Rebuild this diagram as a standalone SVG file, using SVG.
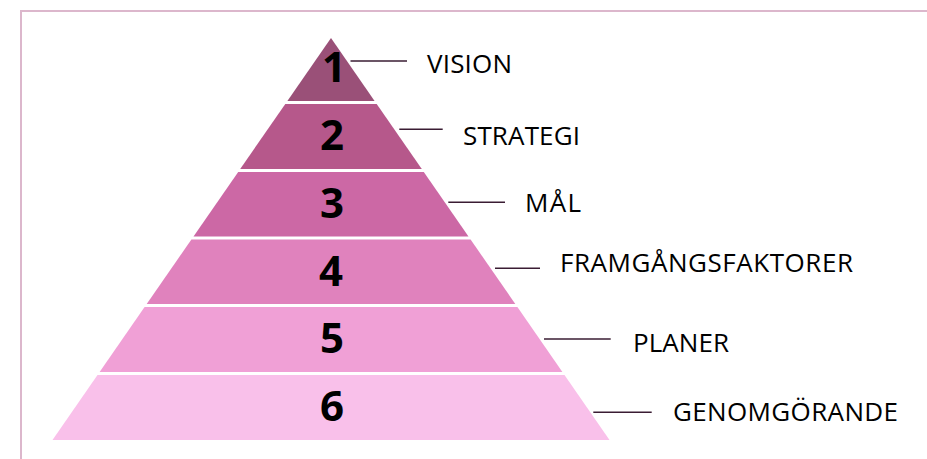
<svg xmlns="http://www.w3.org/2000/svg" width="927" height="459" viewBox="0 0 927 459">
  <style>
    .frame { fill: none; stroke: #dcb7cc; stroke-width: 2; }
    .num { font-family: "Open Sans", "Noto Sans", sans-serif; font-weight: 700; font-size: 42px; fill: #000; text-anchor: middle; }
    .lbl { font-family: "Open Sans", "Noto Sans", sans-serif; font-size: 26px; fill: #000; }
    .conn line { stroke: #3a1c33; stroke-width: 1.6; }
  </style>
  <rect width="927" height="459" fill="#ffffff"/>
  <path class="frame" d="M21,459 V11 H927"/>

  <g id="tier1">
    <polygon points="331,38 374.6,101 287.4,101" fill="#9a5078"/>
    <text class="num" x="334" y="82">1</text>
  </g>
  <g id="tier2">
    <polygon points="285.3,104 376.7,104 421.8,169 240.2,169" fill="#b6588b"/>
    <text class="num" x="332" y="150">2</text>
  </g>
  <g id="tier3">
    <polygon points="238.2,172 423.8,172 468.5,236.5 193.5,236.5" fill="#cc68a5"/>
    <text class="num" x="332" y="218">3</text>
  </g>
  <g id="tier4">
    <polygon points="191.4,239.5 470.6,239.5 515.3,304 146.7,304" fill="#e082bd"/>
    <text class="num" x="331" y="286">4</text>
  </g>
  <g id="tier5">
    <polygon points="144.6,307 517.4,307 562.4,372 99.6,372" fill="#f0a0d6"/>
    <text class="num" x="332" y="353">5</text>
  </g>
  <g id="tier6">
    <polygon points="97.5,375 564.5,375 609.5,440 52.5,440" fill="#f9c0ea"/>
    <text class="num" x="332" y="421">6</text>
  </g>

  <g id="label-vision"><text class="lbl" x="427" y="73" textLength="85" lengthAdjust="spacing">VISION</text></g>
  <g id="label-strategi"><text class="lbl" x="463" y="145" textLength="117" lengthAdjust="spacing">STRATEGI</text></g>
  <g id="label-mal"><text class="lbl" x="525" y="212" textLength="56" lengthAdjust="spacing">MÅL</text></g>
  <g id="label-framgang"><text class="lbl" x="560" y="272" textLength="293" lengthAdjust="spacing">FRAMGÅNGSFAKTORER</text></g>
  <g id="label-planer"><text class="lbl" x="633" y="352" textLength="96" lengthAdjust="spacing">PLANER</text></g>
  <g id="label-genomgorande"><text class="lbl" x="673" y="421" textLength="225" lengthAdjust="spacing">GENOMGÖRANDE</text></g>

  <g id="connectors" class="conn">
    <line x1="350.5" y1="61" x2="407" y2="61"/>
    <line x1="399.3" y1="129.3" x2="442.7" y2="129.3"/>
    <line x1="448.3" y1="202.3" x2="505" y2="202.3"/>
    <line x1="495" y1="268.3" x2="540" y2="268.3"/>
    <line x1="544" y1="339" x2="610.7" y2="339"/>
    <line x1="593.3" y1="412.3" x2="651.7" y2="412.3"/>
  </g>
</svg>
